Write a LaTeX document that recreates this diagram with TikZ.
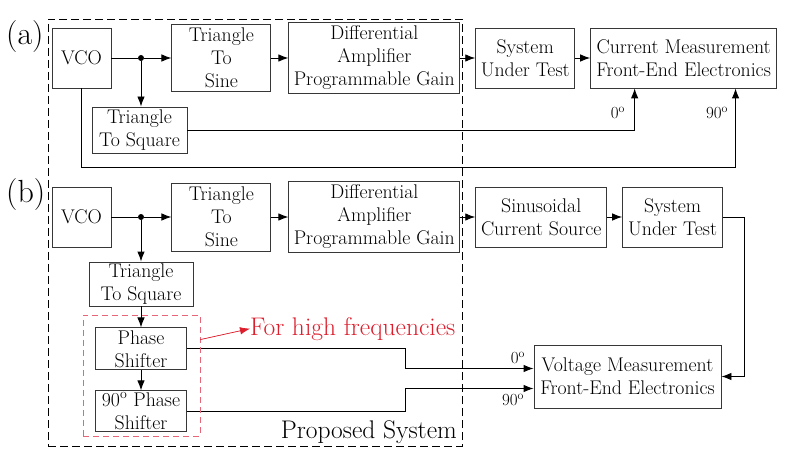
\documentclass[tikz,border=0pt]{standalone}
\usetikzlibrary{arrows.meta, calc, positioning}
\definecolor{linecol}{RGB}{55, 55, 55}
\definecolor{hfcol}{RGB}{220, 30, 45}
\definecolor{hfboxcol}{RGB}{232, 100, 120}
\tikzset{
  blk/.style   = {draw=linecol, line width=0.9pt, align=center, inner sep=0pt,
                  font=\fontsize{19.8}{23}\selectfont},
  sz/.style 2 args = {minimum width=#1pt, minimum height=#2pt},
  flow/.style  = {-{Latex[length=10pt, width=7.5pt]}, line width=0.9pt},
  wire/.style  = {line width=0.9pt},
  jdot/.style  = {circle, fill, inner sep=0pt, minimum size=6pt},
  deg/.style   = {font=\fontsize{17}{17}\selectfont, inner sep=0pt},
  part/.style  = {font=\fontsize{32}{32}\selectfont, inner sep=0pt,
                  anchor=base west},
  % the dashed outline marks what the paper proposes
  sysframe/.style = {draw, line width=0.9pt, dash pattern=on 8pt off 4pt},
  hfframe/.style  = {draw=hfboxcol, line width=0.9pt, dash pattern=on 6pt off 4pt},
  big/.style   = {font=\fontsize{25.5}{25.5}\selectfont, inner sep=0pt},
}
\begin{document}
\begin{tikzpicture}[x=1pt, y=-1pt]
  \useasboundingbox (0,0) rectangle (789,449);

  \node[sysframe, sz={414}{427}] (prop) at (255,232.5) {};
  \node[big, anchor=base east] (proplbl) at (457,438) {Proposed System};

  %% ================ (a) current measurement ================
  \node[part] (parta) at (6,45) {(a)};
  \node[blk, sz={59}{60}] (vcoA) at (81.5,58) {VCO};
  \node[blk, sz={99}{67}, right=60pt of vcoA] (sineA) {Triangle\\To\\Sine};
  \node[blk, sz={171}{71}, right=17pt of sineA] (ampA)
       {Differential\\Amplifier\\Programmable Gain};
  \node[blk, sz={99}{60}, right=15pt of ampA] (sutA) {System\\Under Test};
  \node[blk, sz={186}{60}, right=15pt of sutA] (cmA)
       {Current Measurement\\Front-End Electronics};
  \node[blk, sz={95}{46}] (sqA) at (139.5,130) {Triangle\\To Square};
  \node[jdot] (jA) at (141,58) {};

  \draw[wire] (vcoA) -- (jA);
  \draw[flow] (jA) -- (sineA);
  \draw[flow] (sineA) -- (ampA);
  \draw[flow] (ampA) -- (sutA);
  \draw[flow] (sutA) -- (cmA);
  \draw[flow] (jA) -- (jA |- sqA.north);

  \coordinate (in0A) at ($(cmA.south west)+(44.5,0)$);
  \coordinate (in90A) at ($(cmA.south east)+(-41.5,0)$);
  \coordinate (lowA) at ($(vcoA.south)+(0,79)$);
  \draw[flow] (sqA.east) -| (in0A);
  \draw[flow] (vcoA.south) -- (lowA) -| (in90A);
  \node[deg] (deg0A) at (618,113) {0\textsuperscript{o}};
  \node[deg] (deg90A) at (717,113) {90\textsuperscript{o}};

  %% ================ (b) voltage measurement ================
  \node[part] (partb) at (6,202) {(b)};
  \node[blk, sz={59}{60}] (vcoB) at (81.5,217) {VCO};
  \node[blk, sz={99}{68}, right=60pt of vcoB] (sineB) {Triangle\\To\\Sine};
  \node[blk, sz={171}{71}, right=17pt of sineB] (ampB)
       {Differential\\Amplifier\\Programmable Gain};
  \node[blk, sz={131}{60}, right=15pt of ampB] (srcB)
       {Sinusoidal\\Current Source};
  \node[blk, sz={100}{60}, right=15pt of srcB] (sutB) {System\\Under Test};
  \node[blk, sz={104}{44}] (sqB) at (141,284) {Triangle\\To Square};
  \node[blk, sz={91}{42}, below=21pt of sqB] (phB) {Phase\\Shifter};
  \node[blk, sz={91}{41}, below=20pt of phB] (ph90B)
       {90\textsuperscript{o} Phase\\Shifter};
  \node[blk, sz={187}{63}] (vmB) at (627.5,376.5)
       {Voltage Measurement\\Front-End Electronics};
  \node[jdot] (jB) at (141,217) {};

  \draw[wire] (vcoB) -- (jB);
  \draw[flow] (jB) -- (sineB);
  \draw[flow] (sineB) -- (ampB);
  \draw[flow] (ampB) -- (srcB);
  \draw[flow] (srcB) -- (sutB);
  \draw[flow] (jB) -- (jB |- sqB.north);
  \draw[flow] (sqB) -- (phB);
  \draw[flow] (phB) -- (ph90B);

  \coordinate (retB) at ($(sutB.east)+(21,0)$);
  \draw[flow] (sutB.east) -- (retB) |- (vmB.east);

  \coordinate (kinkB) at (405,0);
  \coordinate (in0B) at ($(vmB.west)+(0,-8)$);
  \coordinate (in90B) at ($(vmB.west)+(0,12)$);
  \draw[flow] (phB.east) -- (phB.east -| kinkB) |- (in0B);
  \draw[flow] (ph90B.east) -- (ph90B.east -| kinkB) |- (in90B);
  \node[deg] (deg0B) at (518,358) {0\textsuperscript{o}};
  \node[deg] (deg90B) at (513,400) {90\textsuperscript{o}};

  %% ---------------- high frequency option ----------------
  \node[hfframe, sz={117}{121}] (hfB) at (141.5,375.5) {};
  \node[big, text=hfcol, anchor=base west] (hfnote) at (250,335)
       {For high frequencies};
  \draw[flow, draw=hfcol, fill=hfcol, line width=0.7pt]
       ($(hfB.north east)+(0,25)$) -- (hfnote.west);

\end{tikzpicture}
\end{document}
